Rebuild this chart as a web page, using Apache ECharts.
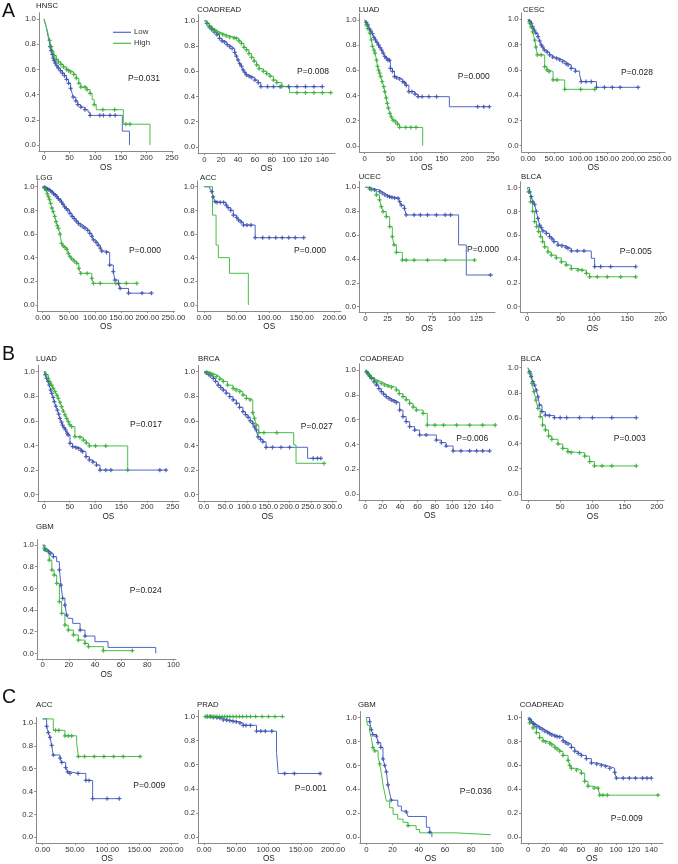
<!DOCTYPE html>
<html><head><meta charset="utf-8">
<script src="https://cdn.jsdelivr.net/npm/echarts@6/dist/echarts.min.js"></script>
<style>html,body{margin:0;padding:0;background:#fff}#c{width:678px;height:864px}</style>
</head><body><div id="c"></div>
<script>
// ---- tick label values ----
const yTicks = [0, 0.2, 0.4, 0.6, 0.8, 1.0];
const xt250 = [0, 50, 100, 150, 200, 250];
const xt200 = [0, 50, 100, 150, 200];
const xt300 = [0, 50, 100, 150, 200, 250, 300];
const xt140 = [0, 20, 40, 60, 80, 100, 120, 140];
const xt125 = [0, 25, 50, 75, 100, 125];
const xt100 = [0, 20, 40, 60, 80, 100];

// ---- survival curves: [time, survival, censored(1)] ----
const hnscA_low = [[0,1,0],[2,0.97,0],[4,0.94,0],[6,0.9,0],[8,0.86,0],[10,0.82,0],[12,0.78,1],[14,0.75,1],[16,0.72,1],[18,0.69,1],[20,0.67,1],[22,0.65,1],[25,0.63,1],[28,0.61,1],[32,0.59,1],[36,0.57,1],[40,0.55,1],[44,0.52,1],[48,0.49,1],[52,0.45,1],[55,0.41,0],[57,0.38,1],[62,0.35,1],[66,0.32,1],[72,0.3,1],[80,0.28,1],[86,0.26,0],[90,0.235,1],[109,0.235,1],[116,0.235,1],[129,0.235,1],[139,0.235,1],[153,0.11,0],[167,0,0]];
const hnscA_high = [[0,1,0],[2,0.97,0],[5,0.93,0],[8,0.88,0],[11,0.83,1],[14,0.78,1],[17,0.74,1],[20,0.71,1],[24,0.68,1],[28,0.66,1],[33,0.64,1],[38,0.62,1],[44,0.6,1],[48,0.59,1],[52,0.58,1],[58,0.56,1],[63,0.53,1],[68,0.49,1],[72,0.46,1],[80,0.46,1],[84,0.44,1],[90,0.41,1],[94,0.36,0],[98,0.32,1],[102,0.28,0],[115,0.28,1],[138,0.28,1],[155,0.165,0],[160,0.165,1],[168,0.165,1],[207,0,0]];

const coadA_low = [[0,1,0],[3,0.98,1],[6,0.95,1],[9,0.93,1],[12,0.91,1],[15,0.89,1],[18,0.86,1],[21,0.84,1],[24,0.83,1],[27,0.81,1],[30,0.795,1],[33,0.78,1],[36,0.75,1],[38,0.72,1],[40,0.69,1],[42,0.66,1],[44,0.64,1],[46,0.61,1],[48,0.59,1],[50,0.57,1],[53,0.56,1],[56,0.55,1],[60,0.53,1],[64,0.51,1],[67,0.477,1],[75,0.477,1],[82,0.477,1],[90,0.477,1],[100,0.477,1],[110,0.477,1],[120,0.477,1],[130,0.477,1],[140,0.477,1]];
const coadA_high = [[0,1,0],[3,0.98,1],[6,0.96,1],[9,0.94,1],[12,0.925,1],[15,0.91,1],[18,0.9,1],[22,0.89,1],[26,0.88,1],[30,0.87,1],[35,0.865,1],[38,0.86,1],[41,0.84,1],[44,0.82,1],[47,0.79,1],[50,0.77,1],[53,0.74,1],[56,0.71,1],[59,0.68,1],[62,0.65,1],[65,0.62,1],[70,0.6,1],[74,0.58,1],[78,0.56,1],[82,0.53,1],[86,0.51,1],[92,0.48,1],[101,0.43,0],[110,0.43,1],[120,0.43,1],[130,0.43,1],[140,0.43,1],[150,0.43,1]];

const luadA_low = [[0,1,0],[3,0.98,1],[6,0.96,1],[9,0.93,1],[12,0.91,1],[15,0.89,1],[18,0.86,1],[21,0.84,1],[24,0.82,1],[27,0.8,1],[30,0.78,1],[33,0.76,1],[36,0.735,1],[39,0.71,1],[42,0.695,1],[45,0.68,1],[48,0.68,1],[50,0.615,1],[54,0.59,1],[58,0.55,1],[62,0.54,1],[68,0.53,1],[74,0.51,1],[78,0.5,1],[81,0.48,1],[86,0.43,1],[92,0.43,1],[98,0.41,1],[104,0.39,1],[112,0.39,1],[125,0.39,1],[140,0.39,1],[165,0.31,0],[220,0.31,1],[232,0.31,1],[243,0.31,1]];
const luadA_high = [[0,1,0],[3,0.96,1],[6,0.93,1],[10,0.894,1],[13,0.84,1],[15,0.79,1],[18,0.76,1],[20,0.735,1],[23,0.68,1],[25,0.63,1],[27,0.6,1],[29,0.576,1],[31,0.55,1],[34,0.51,1],[37,0.47,1],[39,0.43,1],[42,0.38,1],[44,0.337,1],[46,0.3,1],[49,0.257,1],[52,0.23,1],[55,0.204,1],[60,0.19,1],[64,0.172,1],[68,0.146,1],[80,0.146,1],[90,0.146,1],[100,0.146,1],[113,0,0]];

const cescA_low = [[0,1,0],[3,0.985,1],[6,0.97,1],[9,0.94,1],[12,0.915,1],[15,0.89,1],[19,0.863,1],[22,0.83,1],[25,0.797,1],[28,0.78,1],[31,0.757,1],[36,0.74,1],[41,0.718,1],[47,0.7,1],[54,0.69,1],[60,0.68,1],[66,0.665,1],[72,0.65,1],[76,0.64,1],[82,0.612,1],[90,0.59,1],[98,0.56,0],[101,0.507,1],[110,0.507,1],[120,0.507,1],[130,0.462,1],[145,0.462,1],[160,0.462,1],[175,0.462,1],[209,0.462,1]];
const cescA_high = [[0,1,0],[3,0.97,1],[6,0.94,1],[9,0.9,1],[12.7,0.836,1],[15,0.78,1],[17.7,0.718,1],[25,0.718,1],[31.6,0.625,1],[36,0.6,1],[40,0.586,1],[47.5,0.52,1],[55,0.52,1],[69.6,0.446,1],[100,0.446,1],[126.6,0.446,1]];

const lggA_low = [[0,1,0],[3,0.995,1],[6,0.99,1],[9,0.98,1],[12,0.975,1],[15,0.965,1],[18,0.955,1],[21,0.94,1],[24,0.93,1],[27,0.915,1],[30,0.9,1],[33,0.887,1],[36,0.87,1],[39,0.85,1],[42,0.83,1],[45,0.815,1],[48,0.8,1],[52,0.775,1],[56,0.75,1],[60,0.73,1],[64,0.71,1],[68,0.69,1],[72,0.676,1],[77,0.66,1],[81,0.648,1],[86,0.63,1],[90,0.606,1],[94,0.58,1],[97,0.55,1],[102,0.53,1],[106,0.507,1],[110,0.48,1],[113,0.456,1],[122,0.445,1],[128,0.338,1],[135,0.282,1],[138,0.211,1],[145,0.18,1],[148,0.14,1],[164,0.1,1],[190,0.1,1],[208,0.1,1]];
const lggA_high = [[0,1,0],[3,0.99,1],[6.4,0.97,1],[9,0.94,1],[11,0.915,1],[13,0.89,1],[15,0.86,1],[17.5,0.82,1],[20,0.79,1],[23,0.75,1],[25.5,0.704,1],[28,0.67,1],[30,0.648,1],[33,0.6,1],[36,0.52,1],[39,0.5,1],[42.7,0.485,1],[46,0.47,1],[49,0.437,1],[52,0.41,1],[55.5,0.389,1],[60,0.37,1],[65,0.352,1],[69,0.31,1],[72.7,0.268,1],[85,0.268,1],[93.8,0.225,1],[97,0.183,1],[110,0.183,1],[140,0.183,1],[160,0.183,1],[180,0.183,1]];

const accA_low = [[0,1,0],[9,0.98,0],[12,0.958,1],[14,0.915,1],[17,0.873,1],[20,0.868,1],[25,0.868,1],[30,0.868,1],[34,0.845,1],[37,0.823,1],[41,0.8,1],[45,0.76,1],[50,0.74,1],[53,0.718,1],[57,0.7,1],[60.5,0.676,1],[66,0.676,1],[72,0.676,1],[78.5,0.569,1],[90,0.569,1],[100,0.569,1],[110,0.569,1],[120,0.569,1],[130,0.569,1],[140,0.569,1],[153,0.569,1]];
const accA_high = [[0,1,0],[13,0.76,0],[18.5,0.507,0],[22,0.4,0],[39,0.268,0],[68,0,0]];

const ucecA_low = [[0,1,0],[5,0.986,1],[10.5,0.977,1],[16,0.964,1],[19,0.95,1],[22,0.936,1],[25,0.925,1],[27.4,0.92,1],[30,0.915,1],[33,0.91,1],[36.8,0.908,1],[38.7,0.88,1],[40.5,0.85,1],[44,0.824,1],[46,0.768,1],[55,0.768,1],[62,0.768,1],[70,0.768,1],[80,0.768,1],[90,0.768,1],[96,0.768,1],[105,0.517,0],[113.7,0.265,0],[141,0.265,1]];
const ucecA_high = [[0,1,0],[6.8,0.98,1],[12.4,0.936,1],[16,0.894,1],[18,0.838,1],[20,0.796,1],[23.6,0.754,1],[27.4,0.67,1],[30.4,0.587,1],[32.3,0.517,1],[35,0.455,1],[41.7,0.39,1],[46,0.39,1],[55,0.39,1],[70,0.39,1],[90,0.39,1],[123,0.39,1]];

const blcaA_low = [[0,1,0],[3.5,0.965,1],[6,0.924,1],[8.5,0.88,1],[11,0.86,1],[13.5,0.8,1],[16,0.742,1],[18.5,0.686,1],[21,0.664,1],[23.5,0.636,1],[28.5,0.616,1],[33.5,0.588,1],[37,0.57,1],[40,0.546,1],[46,0.518,1],[52,0.51,1],[58,0.5,1],[61,0.49,1],[66,0.468,1],[75,0.468,1],[85,0.468,1],[96,0.406,0],[101,0.336,1],[110,0.336,1],[125,0.336,1],[162.5,0.336,1]];
const blcaA_high = [[0,1,0],[2,0.965,1],[5,0.88,1],[8,0.8,1],[11,0.714,1],[14,0.672,1],[17,0.63,1],[20,0.588,1],[23,0.546,1],[26,0.503,1],[31,0.46,1],[36,0.433,1],[43.5,0.41,1],[51,0.377,1],[58.5,0.35,1],[66,0.32,1],[76,0.307,1],[82,0.307,1],[88.5,0.28,1],[93.5,0.251,1],[105,0.251,1],[120,0.251,1],[140,0.251,1],[162.5,0.251,1]];

const luadB_low = [[0,1,0],[2.5,0.975,1],[5,0.946,1],[8,0.92,1],[10.4,0.89,1],[13,0.85,1],[15,0.824,1],[18,0.79,1],[20,0.756,1],[23,0.72,1],[26,0.688,1],[28.5,0.655,1],[31,0.62,1],[34,0.59,1],[36,0.566,1],[39,0.545,1],[42,0.526,1],[45,0.5,1],[47,0.485,1],[50.5,0.417,1],[55.7,0.39,1],[62,0.383,1],[66.7,0.377,1],[72,0.36,1],[75,0.35,1],[81.6,0.309,1],[88,0.282,1],[95,0.265,1],[102,0.241,1],[108.8,0.2,1],[120,0.2,1],[130,0.2,1],[225,0.2,1],[237,0.2,1]];
const luadB_high = [[0,1,0],[4,0.975,1],[8.4,0.946,1],[12,0.915,1],[15,0.89,1],[18,0.865,1],[21.4,0.837,1],[25,0.81,1],[27.8,0.783,1],[31,0.75,1],[34.3,0.715,1],[37.5,0.68,1],[40.8,0.648,1],[44,0.62,1],[47.3,0.593,1],[50,0.57,1],[53.8,0.553,1],[60,0.471,1],[70,0.466,1],[76.4,0.444,1],[82,0.42,1],[88,0.396,1],[100,0.396,1],[120,0.396,1],[162.6,0.2,1]];

const brcaB_low = [[0,1,0],[5,0.99,1],[10,0.98,1],[15,0.965,1],[21.6,0.946,1],[27,0.92,1],[33,0.89,1],[39,0.87,1],[45,0.85,1],[52,0.825,1],[60,0.797,1],[68,0.77,1],[75.8,0.743,1],[83,0.71,1],[91,0.675,1],[97,0.65,1],[103,0.629,1],[108,0.6,1],[114,0.58,1],[118,0.55,1],[122,0.526,1],[126,0.47,1],[132,0.45,1],[137.6,0.43,1],[145,0.385,1],[160,0.385,1],[180,0.385,1],[200,0.385,1],[242,0.295,0],[255,0.295,1],[265,0.295,1],[273,0.295,1]];
const brcaB_high = [[0,1,0],[7,0.995,1],[14,0.986,1],[21,0.975,1],[29,0.96,1],[37,0.94,1],[45,0.92,1],[55,0.89,1],[68,0.864,1],[75,0.85,1],[83.5,0.837,1],[91,0.81,1],[99,0.783,1],[108,0.77,1],[114,0.667,1],[118,0.62,1],[122,0.566,1],[128,0.504,1],[140,0.504,1],[170,0.504,1],[209.5,0.404,0],[215,0.255,0],[280.6,0.255,1]];

const coadB_low = [[0,1,0],[1.5,0.985,1],[3,0.973,1],[5,0.95,1],[7,0.933,1],[10,0.905,1],[12.7,0.879,1],[15.5,0.85,1],[18.4,0.825,1],[21,0.805,1],[24,0.785,1],[27,0.77,1],[30,0.758,1],[33,0.75,1],[35.7,0.737,1],[39.5,0.677,1],[43.3,0.624,1],[47,0.583,1],[51,0.543,1],[56.8,0.516,1],[62.5,0.476,1],[70,0.476,1],[81.7,0.435,1],[87.5,0.414,1],[93,0.387,1],[101,0.347,1],[110,0.347,1],[120,0.347,1],[128,0.347,1],[135,0.347,1],[143,0.347,1]];
const coadB_high = [[0,1,0],[1.5,0.98,1],[3.8,0.96,1],[7,0.94,1],[10.7,0.919,1],[14,0.905,1],[18.4,0.892,1],[22,0.88,1],[26,0.871,1],[30,0.86,1],[35.7,0.839,1],[39,0.81,1],[43.3,0.785,1],[47,0.76,1],[51,0.731,1],[55,0.7,1],[58.7,0.677,1],[66.4,0.65,1],[71.3,0.556,1],[80,0.556,1],[90,0.556,1],[105,0.556,1],[120,0.556,1],[135,0.556,1],[149.6,0.556,1]];

const blcaB_low = [[0,1,0],[2.6,0.968,1],[5,0.929,1],[7.8,0.889,1],[10.3,0.863,1],[13,0.823,1],[15.5,0.77,1],[18,0.704,1],[21.7,0.652,1],[27,0.625,1],[33,0.62,1],[41,0.604,1],[50,0.604,1],[60,0.604,1],[80,0.604,1],[100,0.604,1],[130,0.604,1],[168,0.604,1]];
const blcaB_high = [[0,1,0],[2.6,0.955,1],[6.2,0.876,1],[9.3,0.81,1],[12.4,0.744,1],[15.5,0.678,1],[19,0.612,1],[22.7,0.546,1],[27,0.507,1],[32,0.459,1],[37,0.433,1],[46.5,0.396,1],[54,0.361,1],[62,0.335,1],[67,0.327,1],[80,0.327,1],[88,0.3,1],[95.6,0.256,1],[103,0.222,1],[115,0.222,1],[130,0.222,1],[168,0.222,1]];

const gbmB_low = [[0,1,0],[1.8,0.954,1],[4.3,0.938,1],[6,0.92,1],[8.2,0.892,1],[10.7,0.846,0],[12.8,0.77,1],[14,0.63,1],[15.3,0.508,1],[17,0.446,1],[18.4,0.354,1],[19.6,0.323,0],[23,0.277,0],[28.6,0.215,1],[32.4,0.16,1],[40,0.108,0],[50,0.055,0],[86.5,0,0]];
const gbmB_high = [[0,1,0],[1.3,0.97,1],[3,0.954,1],[5,0.86,1],[7,0.77,1],[8.7,0.723,1],[10.7,0.646,1],[12.8,0.477,1],[14.5,0.37,1],[17,0.26,1],[19.6,0.215,1],[23.5,0.17,1],[27.3,0.123,1],[32.4,0.092,1],[35,0.062,1],[46.4,0.025,1],[68.6,0.025,1]];

const accC_low = [[0,1.036,0],[6.2,0.97,1],[8.8,0.916,1],[11.4,0.874,1],[14,0.804,1],[16.5,0.72,1],[27,0.693,1],[29.5,0.656,1],[35.7,0.609,1],[38.8,0.573,1],[42.4,0.559,1],[55,0.559,1],[67,0.497,1],[72,0.497,1],[77.5,0.338,1],[100,0.338,1],[119,0.338,1]];
const accC_high = [[0,1.036,0],[16.5,0.936,0],[20,0.936,1],[25,0.936,1],[34.6,0.888,1],[40,0.888,1],[45,0.888,1],[52.7,0.832,0],[55.3,0.707,1],[65,0.707,1],[80,0.707,1],[95,0.707,1],[110,0.707,1],[125,0.707,1],[151,0.707,1]];

const pradC_low = [[0,1,0],[5,1,1],[10,1,1],[14.4,0.992,1],[20,0.99,1],[24.7,0.986,1],[30,0.973,1],[35,0.97,1],[40,0.965,1],[45,0.96,1],[50,0.955,1],[55.7,0.946,1],[60.8,0.927,1],[65,0.927,1],[72,0.927,1],[81.4,0.878,1],[88,0.878,1],[95,0.878,1],[105,0.878,1],[112.4,0.703,0],[115,0.527,0],[125,0.527,1],[140,0.527,1],[180,0.527,1]];
const pradC_high = [[0,1,0],[2,1,1],[5,1,1],[8,1,1],[11,1,1],[14,1,1],[17,1,1],[20,1,1],[24,1,1],[28,1,1],[32,1,1],[36,1,1],[40,1,1],[45,1,1],[50,1,1],[55,1,1],[60,1,1],[66,1,1],[72,1,1],[80,1,1],[90,1,1],[100,1,1],[110,1,1],[121.6,1,1]];

const gbmC_low = [[0,1,0],[2.5,0.967,1],[3.8,0.9,1],[5,0.858,1],[7.6,0.845,1],[9,0.79,1],[11,0.75,1],[12.7,0.654,1],[14,0.6,1],[15.3,0.545,1],[16.5,0.436,1],[17.8,0.368,0],[19,0.308,1],[24,0.259,0],[26.7,0.218,0],[30.5,0.21,1],[31.8,0.172,0],[45.8,0.082,0],[48.4,0.04,1],[50,0,0]];
const gbmC_high = [[0,1,0],[0.8,0.935,0],[2.5,0.886,0],[3.8,0.831,0],[5,0.749,1],[6.4,0.722,1],[9,0.668,0],[10.2,0.613,1],[11.5,0.531,0],[12.7,0.436,0],[14,0.368,0],[15.3,0.3,0],[17.8,0.245,0],[20.4,0.19,0],[24,0.15,0],[28,0.123,0],[31.8,0.095,1],[38,0.063,0],[40.7,0.035,0],[68.7,0.019,0],[95,0.019,0]];

const coadC_low = [[0,1,0],[2,0.985,1],[3.8,0.967,1],[6,0.95,1],[7.6,0.94,1],[10,0.925,1],[13.2,0.913,1],[16,0.9,1],[19,0.886,1],[22,0.875,1],[24.6,0.864,1],[27,0.855,1],[30.3,0.846,1],[33,0.84,1],[36,0.837,1],[39.7,0.805,1],[42.5,0.79,1],[45.4,0.778,1],[49.2,0.75,1],[53,0.718,1],[57,0.7,1],[60.5,0.683,1],[66.2,0.656,1],[71.9,0.62,1],[78,0.61,1],[83.2,0.6,1],[88,0.59,1],[92.7,0.575,1],[98.4,0.54,1],[100.3,0.493,1],[108,0.493,1],[115,0.493,1],[122,0.493,1],[130,0.493,1],[135,0.493,1],[140,0.493,1]];
const coadC_high = [[0,1,0],[1.9,0.954,1],[5.7,0.913,1],[9.5,0.873,1],[13.2,0.832,1],[17,0.805,1],[20,0.795,1],[24.6,0.783,1],[27,0.77,1],[30.3,0.75,1],[33,0.735,1],[36,0.718,1],[39.7,0.683,1],[45.4,0.642,1],[47.3,0.6,1],[49.2,0.575,1],[55,0.56,1],[60.5,0.534,1],[64.3,0.466,1],[68,0.425,1],[75,0.41,1],[79.5,0.41,1],[81.4,0.35,1],[85,0.35,1],[90,0.35,1],[147.6,0.35,1]];

// ---- panel texts ----
const titles = ['HNSC','COADREAD','LUAD','CESC','LGG','ACC','UCEC','BLCA','LUAD','BRCA','COADREAD','BLCA','GBM','ACC','PRAD','GBM','COADREAD'];
const pvalues = ['P=0.031','P=0.008','P=0.000','P=0.028','P=0.000','P=0.000','P=0.000','P=0.005','P=0.017','P=0.027','P=0.006','P=0.003','P=0.024','P=0.009','P=0.001','P=0.036','P=0.009'];
const lowCurves = [hnscA_low,coadA_low,luadA_low,cescA_low,lggA_low,accA_low,ucecA_low,blcaA_low,luadB_low,brcaB_low,coadB_low,blcaB_low,gbmB_low,accC_low,pradC_low,gbmC_low,coadC_low];
const highCurves = [hnscA_high,coadA_high,luadA_high,cescA_high,lggA_high,accA_high,ucecA_high,blcaA_high,luadB_high,brcaB_high,coadB_high,blcaB_high,gbmB_high,accC_high,pradC_high,gbmC_high,coadC_high];
const xTicks = [xt250,xt140,xt250,xt250,xt250,xt200,xt125,xt200,xt250,xt300,xt140,xt200,xt100,xt200,xt200,xt100,xt140];
const xDecimals = [0,0,0,2,2,2,0,0,0,1,0,0,0,2,2,0,0];
const seriesNames = ['Low','High'];

// ---- layout (pixels) : [left, top, width, height, xmin, xmax, titleX, titleY, pX, pY] ----
const layout = [
  [38.9,12.7,134.1,138.6,-10,252, 36,6, 144,79],
  [198,14.5,137,138.6,-7.5,155, 197,10, 313,72],
  [359.6,13.5,134.4,138.6,-10,252, 358.7,10, 473.7,76.7],
  [521.7,13,143.3,139,-12,260, 523,10, 637,73],
  [37.5,180.8,137,130.1,-10,252, 36,177.7, 145,250.7],
  [197.5,180.8,143.4,130.1,-10,210, 200,177.7, 310,250.7],
  [359.1,181.3,135.9,131.3,-7,146, 358.7,176.7, 483,250],
  [520.6,181.7,143.4,130.9,-10,205, 521,177, 635.7,251.7],
  [37.8,365.5,141.1,135.3,-12,262, 36,359.3, 146,424.3],
  [198,365.5,138.7,135.3,-14,310, 198,359, 316.7,426.7],
  [358.8,363.8,142.1,136.4,-7.5,156, 359.7,359, 472.3,438.3],
  [521.5,361.4,142.5,138.9,-10,211, 520.7,359, 629.7,438.3],
  [36.8,539.6,139.2,119.2,-4.5,102, 36,526.7, 145.7,590.7],
  [36.2,717.3,141.9,131.3,-10,210, 36,705, 149.3,785.7],
  [198.2,710.5,141.3,135.7,-9,210, 197,705, 310.7,789],
  [359.8,711.6,141.5,134.5,-5,103, 358,705, 475.7,791.7],
  [521,711.5,141.8,135.3,-8,153, 519.7,705, 626.7,818.3]
];

const FONT = '"Liberation Sans", Arial, Helvetica, sans-serif';
const LINE_COL = ['#5068c8', '#48bf48'];
const MARK_COL = ['#3246ab', '#2ea62e'];
const AXIS_COL = '#8a8a8a';
const PLUS = 'path://M0,3.5H10V6.5H0Z M3.5,0H6.5V10H3.5Z';

const grids = [], xAxes = [], yAxes = [], series = [], graphics = [];
layout.forEach((L, i) => {
  grids.push({left: L[0], top: L[1], width: L[2], height: L[3], containLabel: false});
  const dec = xDecimals[i];
  xAxes.push({
    gridIndex: i, type: 'value', min: L[4], max: L[5],
    name: 'OS', nameLocation: 'middle', nameGap: 12,
    nameTextStyle: {fontSize: 8.2, color: '#222', fontFamily: FONT},
    axisLine: {show: true, onZero: false, lineStyle: {color: AXIS_COL, width: 1}},
    axisTick: {show: true, length: 2, customValues: xTicks[i], lineStyle: {color: AXIS_COL}},
    axisLabel: {customValues: xTicks[i], formatter: v => Number(v).toFixed(dec), fontSize: 7.8, color: '#333', margin: 2.5, fontFamily: FONT},
    splitLine: {show: false}
  });
  yAxes.push({
    gridIndex: i, type: 'value', min: -0.05, max: 1.05,
    axisLine: {show: true, onZero: false, lineStyle: {color: AXIS_COL, width: 1}},
    axisTick: {show: true, length: 2, customValues: yTicks, lineStyle: {color: AXIS_COL}},
    axisLabel: {customValues: yTicks, formatter: v => Number(v).toFixed(1), fontSize: 7.8, color: '#333', margin: 3, fontFamily: FONT},
    splitLine: {show: false}
  });
  [lowCurves[i], highCurves[i]].forEach((curve, k) => {
    series.push({
      name: seriesNames[k], type: 'line', step: 'end', xAxisIndex: i, yAxisIndex: i,
      data: curve.map(d => [d[0], d[1]]), showSymbol: false, symbol: 'none',
      lineStyle: {color: LINE_COL[k], width: 1}, itemStyle: {color: LINE_COL[k]}, silent: true, z: 2
    });
    series.push({
      name: seriesNames[k], type: 'scatter', xAxisIndex: i, yAxisIndex: i,
      data: curve.filter(d => d[2] === 1).map(d => [d[0], d[1]]),
      symbol: PLUS, symbolSize: 4.2, itemStyle: {color: MARK_COL[k]}, silent: true, z: 3
    });
  });
  graphics.push({type: 'text', x: L[6], y: L[7], style: {text: titles[i], fill: '#222', font: '7.8px ' + FONT, textAlign: 'left', align: 'left', textVerticalAlign: 'middle', verticalAlign: 'middle'}});
  graphics.push({type: 'text', x: L[8], y: L[9], style: {text: pvalues[i], fill: '#222', font: '8.5px ' + FONT, textAlign: 'center', align: 'center', textVerticalAlign: 'middle', verticalAlign: 'middle'}});
});

// section letters
[['A', 2, 11.5], ['B', 2, 355], ['C', 2, 698]].forEach(s => {
  graphics.push({type: 'text', x: s[1], y: s[2], style: {text: s[0], fill: '#111', font: '19.5px ' + FONT, textAlign: 'left', align: 'left', textVerticalAlign: 'middle', verticalAlign: 'middle'}});
});
// legend (HNSC panel)
[['Low', 32.3, 0], ['High', 43.3, 1]].forEach(s => {
  graphics.push({type: 'line', shape: {x1: 113, y1: s[1], x2: 131, y2: s[1]}, style: {stroke: LINE_COL[s[2]], lineWidth: 1.2}});
  graphics.push({type: 'text', x: 134, y: s[1], style: {text: s[0], fill: '#333', font: '7.8px ' + FONT, textAlign: 'left', align: 'left', textVerticalAlign: 'middle', verticalAlign: 'middle'}});
});

const chart = echarts.init(document.getElementById('c'), null, {renderer: 'canvas'});
chart.setOption({
  animation: false,
  backgroundColor: '#ffffff',
  textStyle: {fontFamily: FONT},
  grid: grids, xAxis: xAxes, yAxis: yAxes, series: series, graphic: graphics
});
</script>
</body></html>
